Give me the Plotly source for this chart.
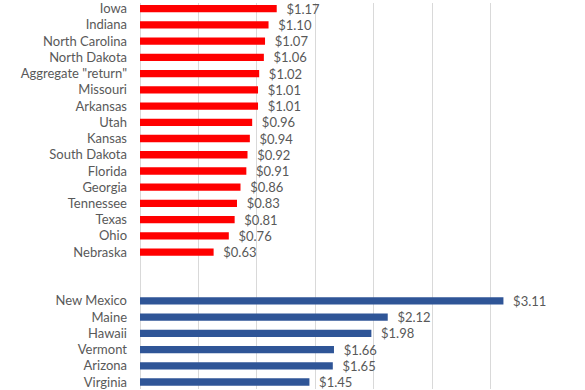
import plotly.graph_objects as go

red_states = ["Iowa", "Indiana", "North Carolina", "North Dakota", "Aggregate \"return\"",
              "Missouri", "Arkansas", "Utah", "Kansas", "South Dakota", "Florida",
              "Georgia", "Tennessee", "Texas", "Ohio", "Nebraska"]
red_values = [1.17, 1.10, 1.07, 1.06, 1.02, 1.01, 1.01, 0.96, 0.94, 0.92, 0.91,
              0.86, 0.83, 0.81, 0.76, 0.63]

blank_rows = [" ", "  "]

blue_states = ["New Mexico", "Maine", "Hawaii", "Vermont", "Arizona", "Virginia"]
blue_values = [3.11, 2.12, 1.98, 1.66, 1.65, 1.45]

category_order = red_states + blank_rows + blue_states

FONT = "Lato"
TXT = "#595959"
LABEL = "\u00a0\u00a0$%{x:.2f}"

fig = go.Figure()
fig.add_trace(go.Bar(
    y=red_states, x=red_values, orientation="h",
    marker=dict(color="#FF0000", line=dict(width=0)),
    texttemplate=LABEL, textposition="outside", constraintext="none",
    textfont=dict(family=FONT, size=13, color=TXT),
    cliponaxis=False, width=0.45, hoverinfo="skip",
))
fig.add_trace(go.Bar(
    y=blue_states, x=blue_values, orientation="h",
    marker=dict(color="#2F5597", line=dict(width=0)),
    texttemplate=LABEL, textposition="outside", constraintext="none",
    textfont=dict(family=FONT, size=13, color=TXT),
    cliponaxis=False, width=0.45, hoverinfo="skip",
))

fig.update_layout(
    width=585, height=390,
    margin=dict(l=140, r=36, t=0, b=0),
    paper_bgcolor="white", plot_bgcolor="white",
    barmode="overlay", showlegend=False,
    font=dict(family=FONT, size=13, color=TXT),
)
fig.update_xaxes(
    range=[0, 3.5], dtick=0.5, tick0=0,
    showgrid=True, gridcolor="#D9D9D9", gridwidth=1,
    zeroline=True, zerolinecolor="#D9D9D9", zerolinewidth=1,
    showticklabels=False, showline=False,
)
fig.update_yaxes(
    type="category", categoryorder="array", categoryarray=category_order,
    range=[23.43, -0.348],
    showgrid=False, zeroline=False, showline=False, ticks="",
    ticklabelstandoff=12,
    tickfont=dict(family=FONT, size=13, color=TXT),
)

fig.write_html(
    "out.html",
    config={"displayModeBar": False, "staticPlot": True},
    post_script="document.body.style.margin='0px';document.body.style.overflow='hidden';",
)
